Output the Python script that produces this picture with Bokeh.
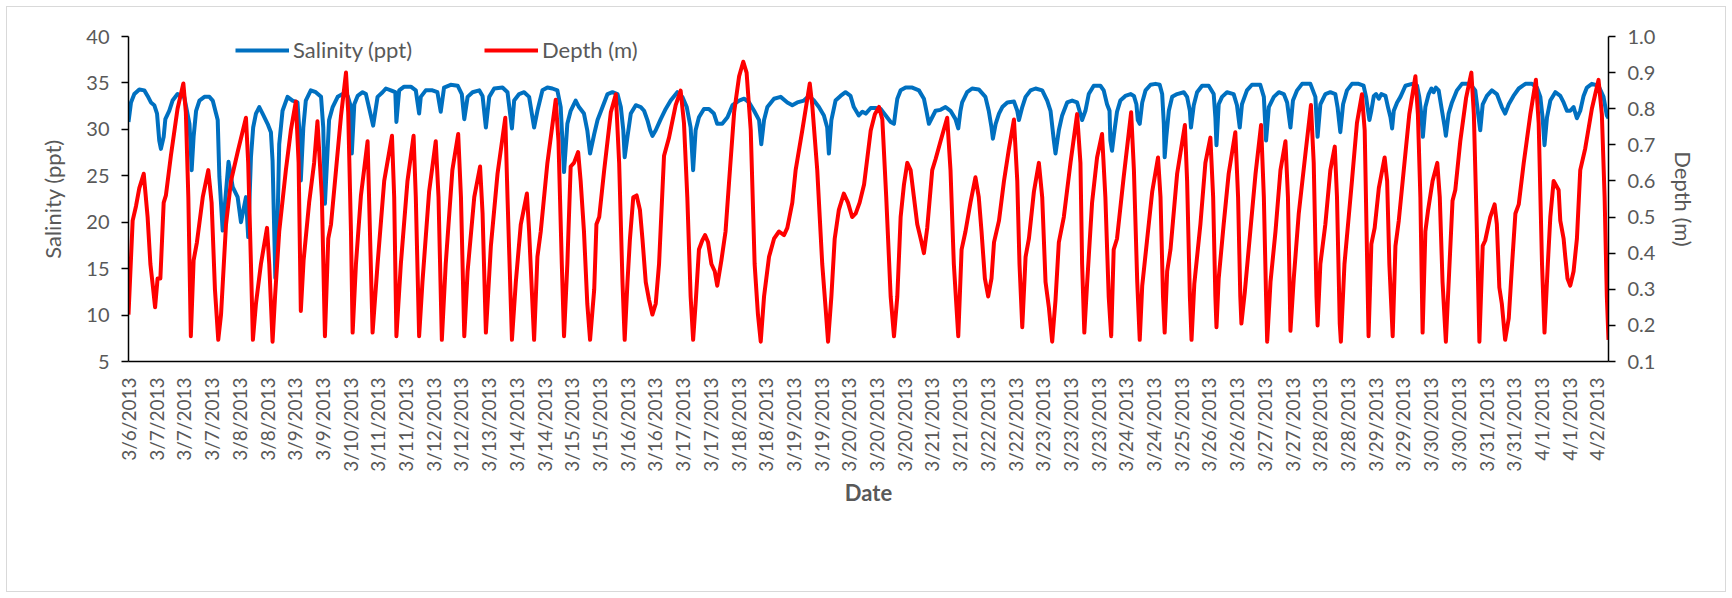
from math import pi
from bokeh.plotting import figure
from bokeh.models import (Range1d, LinearAxis, FixedTicker, NumeralTickFormatter,
                          Legend, LegendItem)
from bokeh.embed import file_html
from bokeh.resources import INLINE

# ---------------- data (x = observation index; one date label every 10 obs) ----------------
label_step = 10
date_labels = ["3/6/2013", "3/7/2013", "3/7/2013", "3/7/2013", "3/8/2013", "3/8/2013",
               "3/9/2013", "3/9/2013", "3/10/2013", "3/11/2013", "3/11/2013", "3/12/2013",
               "3/12/2013", "3/13/2013", "3/14/2013", "3/14/2013", "3/15/2013", "3/15/2013",
               "3/16/2013", "3/16/2013", "3/17/2013", "3/17/2013", "3/18/2013", "3/18/2013",
               "3/19/2013", "3/19/2013", "3/20/2013", "3/20/2013", "3/20/2013", "3/21/2013",
               "3/21/2013", "3/22/2013", "3/22/2013", "3/23/2013", "3/23/2013", "3/23/2013",
               "3/24/2013", "3/24/2013", "3/25/2013", "3/26/2013", "3/26/2013", "3/27/2013",
               "3/27/2013", "3/28/2013", "3/28/2013", "3/29/2013", "3/29/2013", "3/30/2013",
               "3/30/2013", "3/31/2013", "3/31/2013", "4/1/2013", "4/1/2013", "4/2/2013"]
x_end = 534.2

salinity_ticks = [5, 10, 15, 20, 25, 30, 35, 40]
depth_ticks = [0.1, 0.2, 0.3, 0.4, 0.5, 0.6, 0.7, 0.8, 0.9, 1.0]

sal_x = [0.0, 0.9, 2.1, 3.9, 5.7, 6.9, 8.1, 9.3, 10.3, 11.1, 11.7, 12.7, 13.3, 14.7, 15.9, 17.7, 18.9,
         20.1, 21.1, 22.0, 22.5, 22.8, 23.5, 24.4, 25.6, 27.4, 29.2, 30.4, 31.6, 32.2,
         32.8, 34.0, 36.1, 37.6, 39.4, 40.6, 42.4, 43.2, 44.2, 45.0, 46.0, 47.2, 48.4, 50.2, 51.4,
         52.0, 53.0, 53.6, 54.4, 55.6, 57.4, 59.2, 61.0, 61.6, 62.2, 63.1, 64.0, 65.8, 67.6, 69.5,
         70.3, 70.9, 71.8, 72.4, 73.7, 75.5, 77.3, 79.1, 80.3, 80.6, 81.5, 82.7, 84.5,
         85.7, 88.3, 89.9, 91.7, 92.9, 94.7, 96.3, 96.7, 97.7, 99.5, 101.9, 103.7, 104.9, 105.5,
         107.3, 109.7, 111.5, 112.7, 113.9, 116.3, 118.8, 120.3, 121.2, 122.4, 124.2, 126.6, 127.8,
         129.0, 130.2, 132.0, 135.0, 136.8, 138.4, 139.2, 141.0, 142.8, 144.6, 146.4, 147.6, 149.4,
         151.2, 153.0, 154.8, 156.0, 157.2, 158.4, 159.6, 161.4, 162.6, 164.4, 165.6, 166.6, 168.1,
         169.3, 171.1, 172.9, 174.7,
         176.5, 177.7, 178.6, 179.1, 180.1, 181.3, 183.1, 184.9, 186.1, 187.3, 188.3, 189.1, 190.3,
         192.1, 193.9, 195.7, 198.1, 199.9, 201.5, 202.9, 203.8, 204.7, 205.9, 207.7, 209.5, 211.3,
         212.5, 214.3, 216.2, 218.0, 220.4, 222.2, 224.0, 225.8, 227.6, 228.4, 229.4, 230.6, 233.0,
         235.4, 237.8, 239.6, 241.4, 243.8, 245.6, 247.4, 249.2, 251.0, 252.2, 252.8, 253.7, 255.2,
         257.0, 258.8, 260.6, 261.8,
         263.6, 264.9, 266.1, 267.9, 269.7, 271.5, 273.3, 275.1, 276.3, 276.9, 277.5, 278.7, 280.5,
         282.9, 285.3, 287.1, 288.0, 288.9, 290.1, 291.3, 293.1, 294.9, 296.7, 298.5, 299.5, 300.3,
         300.9, 302.7, 304.5, 306.9, 309.3, 310.5, 311.5, 312.0, 313.0, 314.2, 315.4, 317.2, 319.6,
         320.8, 321.4, 322.6, 323.8, 325.6, 327.4, 329.8, 331.6, 332.8, 334.0, 334.6, 335.8, 337.0,
         338.8, 340.6, 342.4, 344.2, 345.4, 346.6, 348.4,
         350.8, 352.0, 353.2, 354.1, 354.4, 355.0, 355.9, 356.8, 358.0, 359.8, 361.7, 362.9, 363.8,
         364.3, 365.0, 365.9, 367.1, 368.9, 370.7, 372.2, 373.1, 373.7, 374.0, 374.6, 375.5, 376.7,
         378.5, 380.9, 382.1, 383.1, 383.5, 384.5, 385.7, 387.5, 389.9, 391.7, 392.3, 392.7, 393.5,
         394.7, 396.5, 398.9, 400.1, 401.1, 401.9, 403.7, 405.5, 408.5, 409.8, 410.6, 411.6, 413.4,
         415.2, 417.0, 418.2, 419.4, 420.3, 421.8, 423.6, 426.6, 428.4, 429.2, 430.2, 432.0, 433.8,
         435.6, 436.4, 437.4, 438.4, 439.8,
         441.6, 444.0, 445.8, 446.7, 447.4, 447.9, 448.6, 449.5, 450.3, 451.3, 452.2, 453.7, 454.6,
         455.5, 456.1, 456.7, 457.9, 459.1, 460.9, 463.3, 465.1, 465.9, 466.6, 467.2, 468.1, 469.3,
         470.3, 471.1, 471.9, 472.9, 474.1, 475.1, 475.5, 476.5, 477.7, 479.5, 481.3, 484.3, 486.1,
         487.3, 487.9, 488.8, 490.3, 492.1, 493.9, 495.7, 496.9, 498.2, 499.9, 501.8, 504.2, 506.6,
         508.4, 509.6, 510.4, 511.1, 512.0, 513.2, 515.0, 516.8, 518.0, 519.2, 520.4, 521.6, 522.8,
         524.0, 525.2, 526.4, 528.2, 530.6, 532.4, 533.6, 534.2]
sal_v = [30.8, 32.9, 33.8, 34.3, 34.2, 33.6, 32.9, 32.6, 31.7, 28.8, 27.9, 29.2, 31.1, 32.0, 33.1, 33.8, 33.6,
         33.5, 32.0, 30.6, 27.7, 25.6, 29.2, 32.0, 33.1, 33.5, 33.5, 33.1, 31.7, 31.0,
         24.9, 19.1, 26.5, 23.8, 22.7, 20.0, 22.7, 18.4, 27.0, 30.2, 31.7, 32.4, 31.7, 30.6, 29.7,
         26.6, 14.0, 17.3, 28.4, 32.0, 33.5, 33.1, 32.9, 30.2, 24.5, 30.2, 33.1, 34.2, 34.0, 33.5,
         30.2, 22.0, 27.4, 31.0, 32.4, 33.5, 33.8, 33.6, 32.4, 27.4, 32.7, 33.6, 34.0,
         33.8, 30.4, 33.5, 34.0, 34.4, 34.2, 34.0, 30.8, 34.2, 34.6, 34.6, 34.2, 31.7, 33.5,
         34.2, 34.2, 34.0, 31.9, 34.5, 34.8, 34.7, 33.8, 31.1, 33.5, 34.0, 34.2, 33.6,
         30.2, 33.5, 34.4, 34.5, 34.0, 30.1, 33.1, 33.8, 34.0, 33.5, 30.2, 32.0, 34.2,
         34.5, 34.4, 34.2, 32.4, 25.4, 30.6, 32.0, 33.1, 32.4, 31.7, 29.9, 27.4, 29.5,
         31.0, 32.4, 33.8, 34.0,
         33.8, 32.4, 29.9, 27.0, 29.2, 31.7, 32.6, 32.4, 32.0, 31.0, 29.9, 29.3, 29.9,
         31.1, 32.2, 33.1, 34.0, 33.5, 32.4, 30.2, 25.6, 29.9, 31.3, 32.2, 32.2, 31.7,
         30.6, 30.6, 31.3, 32.6, 33.1, 33.3, 32.9, 32.0, 31.0, 28.4, 31.0, 32.4, 33.3,
         33.5, 32.9, 32.6, 32.9, 33.1, 33.6, 33.1, 32.4, 31.5, 30.2, 27.4, 31.0, 33.1,
         33.6, 34.0, 33.6, 32.4,
         31.5, 31.9, 31.7, 32.3, 32.3, 32.2, 31.5, 30.8, 30.6, 32.0, 33.3, 34.2, 34.5,
         34.5, 34.2, 33.3, 32.0, 30.6, 31.3, 32.0, 32.1, 32.4, 32.0, 31.1, 30.1, 32.0,
         32.9, 34.0, 34.4, 34.3, 33.5, 32.0, 30.2, 29.0, 30.6, 31.7, 32.4, 32.9, 33.0,
         32.0, 31.0, 32.4, 33.5, 34.2, 34.4, 34.2, 33.1, 32.0, 28.8, 27.4, 29.9, 31.5,
         32.9, 33.1, 32.9, 31.0, 32.0, 33.8, 34.7,
         34.7, 34.2, 32.7, 32.0, 28.8, 27.7, 29.9, 31.9, 33.1, 33.6, 33.8, 33.6, 32.7,
         31.0, 30.6, 32.9, 34.2, 34.8, 34.9, 34.8, 33.8, 30.6, 27.0, 29.2, 32.0, 33.5,
         33.8, 34.0, 33.5, 32.0, 30.2, 32.6, 34.0, 34.7, 34.7, 33.8, 31.3, 28.3, 32.7,
         33.5, 34.0, 33.8, 32.6, 30.2, 32.7, 34.2, 34.8, 34.8, 33.5, 28.8, 32.4, 33.5,
         34.0, 33.8, 32.9, 30.2, 33.1, 34.2, 34.9, 34.9, 33.5, 29.2, 32.7, 33.8, 34.0,
         33.8, 32.4, 29.7, 32.7, 34.2,
         34.9, 34.9, 34.7, 33.5, 32.0, 31.0, 32.0, 33.6, 33.8, 33.3, 33.8, 33.6, 32.4,
         31.3, 30.1, 32.0, 32.9, 33.5, 34.7, 34.9, 34.7, 33.5, 31.7, 29.2, 32.4, 33.8,
         34.4, 34.0, 34.5, 34.2, 32.0, 30.2, 29.3, 31.7, 32.9, 34.2, 34.9, 34.9, 34.2,
         31.3, 29.9, 32.7, 33.6, 34.2, 33.8, 32.4, 31.7, 32.7, 33.6, 34.4, 34.9, 34.9,
         34.5, 33.5, 31.3, 28.3, 31.3, 33.1, 34.0, 33.6, 32.9, 32.0, 32.0, 32.4, 31.2,
         32.0, 33.6, 34.5, 34.9, 34.7, 33.5, 31.5, 31.2]

dep_x = [0.0, 1.5, 2.7, 3.9, 5.5, 6.9, 7.9, 8.7, 9.6, 10.5, 11.5, 12.7, 13.5, 15.3, 17.7, 19.8, 20.7,
         21.6, 22.5, 23.5, 24.7, 26.8, 28.8, 30.0, 31.2, 32.4, 33.4, 35.2, 37.0, 39.4, 42.4, 43.2,
         44.2, 44.9, 46.0, 47.8, 50.0, 50.8, 52.0, 52.9, 54.4, 56.8, 58.6, 60.4, 61.4, 62.2, 63.2,
         65.2, 67.0, 68.2, 69.8, 70.9, 72.1, 73.1, 74.9, 76.7, 78.5, 79.3, 80.3, 80.9, 82.1, 83.9,
         86.3, 88.1, 89.9, 92.3, 95.1, 95.9, 96.7, 98.3, 100.7, 102.9, 103.7, 104.9, 106.1, 108.5,
         110.9, 111.9, 113.1, 114.5, 116.9, 119.0, 120.0, 121.2, 122.4, 124.8, 126.9, 127.8, 129.0,
         130.8, 133.2, 136.0, 136.8, 138.4, 139.8, 141.6, 143.8, 144.6, 146.4, 147.6, 148.8, 151.2,
         154.2, 155.2, 156.4, 157.2, 158.4, 159.6, 160.8, 162.3, 163.2, 164.4, 165.6, 166.6, 168.1,
         168.9, 169.9, 171.7, 174.1,
         175.9, 177.1, 178.3, 179.1, 180.1, 181.0, 182.2, 183.4, 184.6, 185.5, 186.7, 187.9, 189.1,
         190.3, 191.5, 193.3, 195.1, 197.5, 199.3, 200.5, 201.7, 202.9, 203.8, 204.7, 205.9, 207.1,
         208.1, 209.2, 210.4, 211.6, 212.5, 214.0, 215.5, 216.8, 218.6, 220.4, 221.9, 223.1, 224.6,
         226.0, 227.2, 228.2, 229.4, 231.2, 233.0, 234.8, 236.6, 237.8, 239.6, 240.8, 243.2, 245.9,
         246.8, 248.6, 250.4, 251.6, 252.5, 253.7, 254.9, 256.4, 258.2, 259.7, 261.2,
         262.5, 263.9, 265.5, 266.7, 267.9, 269.4, 270.9, 272.1, 273.5, 275.1, 276.3, 277.5, 278.7,
         279.9, 281.1, 282.3, 283.5, 284.7, 286.1, 287.1, 288.3, 290.1, 291.3, 293.1, 295.5, 296.7,
         297.9, 299.5, 300.7, 302.1, 303.9, 305.7, 306.9, 307.9, 309.1, 310.3, 311.5, 312.4, 314.2,
         316.0, 317.8, 319.6, 320.8, 321.6, 322.6, 323.8, 325.0, 326.8, 328.6, 329.8, 331.0, 332.2,
         333.4, 334.6, 335.8, 337.6, 340.0, 342.4, 343.6, 344.2, 345.0, 346.0, 347.8, 349.6,
         351.4, 352.6, 353.8, 354.7, 355.6, 356.8, 359.2, 361.9, 362.9, 364.1, 365.0, 365.9, 367.7,
         369.5, 371.6, 372.5, 373.4, 374.0, 374.9, 376.1, 378.5, 381.3, 382.1, 383.1, 383.7, 384.7,
         386.9, 388.7, 390.5, 391.5, 392.3, 392.7, 393.5, 395.3, 397.1, 399.5, 400.5, 401.3, 401.7,
         402.9, 404.9, 406.8, 408.8, 409.8, 410.6, 411.0, 412.2, 414.0, 415.8, 417.6, 418.5, 419.4,
         420.6, 422.4, 424.8, 426.8, 427.8, 428.8, 429.2, 430.2, 432.0, 433.8, 435.4, 436.2, 437.2,
         437.6, 438.9,
         441.6, 443.4, 445.2, 446.2, 447.1, 447.6, 448.6, 449.8, 451.3, 453.4, 454.3, 455.1, 456.3,
         457.3, 458.5, 460.3, 462.3, 464.5, 465.4, 466.3, 467.1, 468.1, 469.1, 470.7, 472.4, 473.3,
         474.3, 475.5, 476.7, 477.9, 478.9, 480.7, 482.8, 484.7, 485.6, 486.7, 487.6, 488.8, 489.7,
         491.5, 493.1, 493.9, 494.8, 495.7, 496.9, 498.2, 499.4, 500.6, 501.8, 503.6, 506.0, 508.0,
         509.0, 510.2, 511.1, 512.3, 513.2, 514.4, 516.2, 516.8, 518.0, 518.6, 519.4, 520.4, 521.6,
         522.8, 524.0, 525.8, 528.2, 530.6, 531.8, 532.8, 533.6, 534.2]
dep_v = [0.23, 0.49, 0.53, 0.58, 0.62, 0.50, 0.37, 0.315, 0.25, 0.33, 0.33, 0.54, 0.56, 0.67, 0.80, 0.87, 0.79,
         0.555, 0.17, 0.38, 0.43, 0.555, 0.63, 0.54, 0.30, 0.16, 0.23, 0.48, 0.60, 0.68, 0.775, 0.65,
         0.37, 0.16, 0.26, 0.37, 0.47, 0.37, 0.155, 0.28, 0.46, 0.63, 0.74, 0.82, 0.65, 0.24, 0.38,
         0.54, 0.65, 0.765, 0.555, 0.17, 0.44, 0.48, 0.63, 0.78, 0.90, 0.79, 0.46, 0.18, 0.37, 0.56,
         0.71, 0.18, 0.37, 0.60, 0.725, 0.555, 0.17, 0.37, 0.60, 0.725, 0.555, 0.17, 0.32, 0.57,
         0.71, 0.555, 0.16, 0.37, 0.63, 0.73, 0.555, 0.17, 0.35, 0.555, 0.64, 0.51, 0.18,
         0.42, 0.62, 0.775, 0.555, 0.16, 0.32, 0.48, 0.565, 0.46, 0.16, 0.39, 0.46, 0.65,
         0.825, 0.71, 0.37, 0.17, 0.37, 0.64, 0.65, 0.68, 0.60, 0.46, 0.26, 0.16, 0.30,
         0.48, 0.50, 0.63, 0.79,
         0.84, 0.65, 0.32, 0.16, 0.32, 0.44, 0.555, 0.56, 0.52, 0.44, 0.32, 0.27, 0.23,
         0.26, 0.37, 0.67, 0.72, 0.81, 0.85, 0.76, 0.555, 0.28, 0.16, 0.26, 0.41, 0.435,
         0.45, 0.43, 0.37, 0.35, 0.31, 0.38, 0.46, 0.60, 0.79, 0.89, 0.93, 0.90, 0.74,
         0.37, 0.23, 0.155, 0.28, 0.39, 0.44, 0.46, 0.45, 0.47, 0.54, 0.63, 0.74, 0.87,
         0.81, 0.63, 0.37, 0.25, 0.155, 0.28, 0.44, 0.52, 0.565, 0.54, 0.50,
         0.51, 0.54, 0.59, 0.665, 0.74, 0.785, 0.805, 0.77, 0.555, 0.28, 0.17, 0.28, 0.50,
         0.59, 0.65, 0.63, 0.555, 0.48, 0.435, 0.40, 0.47, 0.63, 0.66, 0.71, 0.775, 0.63,
         0.37, 0.17, 0.41, 0.46, 0.54, 0.61, 0.555, 0.46, 0.33, 0.28, 0.33, 0.43, 0.49,
         0.60, 0.69, 0.77, 0.60, 0.37, 0.195, 0.39, 0.44, 0.57, 0.65, 0.555, 0.32, 0.25,
         0.155, 0.27, 0.43, 0.50, 0.65, 0.785, 0.65, 0.37, 0.18, 0.315, 0.54, 0.665,
         0.73, 0.555, 0.28, 0.17, 0.41, 0.44, 0.61, 0.79, 0.63, 0.32, 0.16, 0.31, 0.44,
         0.57, 0.665, 0.555, 0.28, 0.18, 0.35, 0.41, 0.62, 0.755, 0.60, 0.28, 0.16, 0.315,
         0.48, 0.65, 0.72, 0.555, 0.28, 0.195, 0.33, 0.48, 0.62, 0.735, 0.555, 0.28, 0.205,
         0.29, 0.46, 0.62, 0.755, 0.555, 0.28, 0.155, 0.32, 0.46, 0.63, 0.71, 0.555, 0.185,
         0.33, 0.51, 0.675, 0.81, 0.65, 0.28, 0.20, 0.37, 0.48, 0.63, 0.695, 0.555, 0.205,
         0.155, 0.37,
         0.60, 0.76, 0.84, 0.74, 0.37, 0.17, 0.425, 0.47, 0.58, 0.665, 0.60, 0.37, 0.17,
         0.42, 0.49, 0.63, 0.785, 0.89, 0.785, 0.555, 0.18, 0.46, 0.52, 0.60, 0.65, 0.555,
         0.32, 0.155, 0.35, 0.545, 0.575, 0.71, 0.83, 0.90, 0.785, 0.46, 0.155, 0.42, 0.435,
         0.50, 0.535, 0.48, 0.305, 0.26, 0.16, 0.22, 0.37, 0.51, 0.535, 0.65, 0.785, 0.88,
         0.76, 0.37, 0.18, 0.37, 0.50, 0.60, 0.575, 0.49, 0.44, 0.39, 0.33, 0.31, 0.35,
         0.44, 0.63, 0.69, 0.80, 0.88, 0.785, 0.555, 0.28, 0.16]

# ---------------- styling ----------------
FONT = "Lato"
GREY = "#595959"
BLUE = "#0070C0"
RED = "#FF0000"

p = figure(width=1732, height=598, output_backend="svg", toolbar_location=None,
           x_range=Range1d(0, x_end), y_range=Range1d(5, 40),
           min_border_left=128, min_border_right=124, min_border_top=36, min_border_bottom=237)
# light chart-area border drawn by the page behind a transparent canvas border
p.styles = {"background-color": "white",
            "box-shadow": "inset 0 0 0 6px white, inset 0 0 0 7px #D9D9D9"}
p.background_fill_color = "white"
p.border_fill_alpha = 0
p.outline_line_color = None
p.xgrid.visible = False
p.ygrid.visible = False
p.extra_y_ranges = {"depth": Range1d(0.1, 1.0)}

r_sal = p.line(sal_x, sal_v, line_color=BLUE, line_width=4, line_join="round")
r_dep = p.line(dep_x, dep_v, line_color=RED, line_width=4, line_join="round",
               y_range_name="depth")

def style_axis(ax):
    ax.axis_line_color = "black"
    ax.axis_line_width = 1.5
    ax.major_tick_line_color = "black"
    ax.major_tick_line_width = 1.5
    ax.minor_tick_line_color = None
    ax.major_tick_in = 0
    ax.major_label_text_font = FONT
    ax.major_label_text_color = GREY
    ax.axis_label_text_font = FONT
    ax.axis_label_text_color = GREY
    ax.axis_label_text_font_style = "normal"

# bottom (date) axis
xa = p.xaxis[0]
style_axis(xa)
xa.ticker = FixedTicker(ticks=[i * label_step for i in range(len(date_labels))])
xa.major_label_overrides = {i * label_step: lab for i, lab in enumerate(date_labels)}
xa.major_tick_out = 0
xa.major_tick_line_color = None
xa.major_label_orientation = pi / 2
xa.major_label_standoff = 16
xa.major_label_text_font_size = "19px"
xa.axis_label = "Date"
xa.axis_label_text_font_size = "22px"
xa.axis_label_text_font_style = "bold"
xa.axis_label_standoff = 4

# left (salinity) axis
ya = p.yaxis[0]
style_axis(ya)
ya.ticker = FixedTicker(ticks=salinity_ticks)
ya.major_tick_out = 7
ya.major_label_standoff = 12
ya.major_label_text_font_size = "20px"
ya.axis_label = "Salinity (ppt)"
ya.axis_label_text_font_size = "22px"
ya.axis_label_standoff = 17

# right (depth) axis
ra = LinearAxis(y_range_name="depth", ticker=FixedTicker(ticks=depth_ticks),
                formatter=NumeralTickFormatter(format="0.0"), axis_label="Depth (m)")
style_axis(ra)
ra.major_tick_out = 7
ra.major_label_standoff = 12
ra.major_label_text_font_size = "20px"
ra.axis_label_text_font_size = "22px"
ra.axis_label_standoff = 12
p.add_layout(ra, "right")

legend = Legend(items=[LegendItem(label="Salinity (ppt)", renderers=[r_sal]),
                       LegendItem(label="Depth (m)", renderers=[r_dep])],
                orientation="horizontal", location=(107, 298),
                glyph_width=54, glyph_height=24, label_height=24, label_standoff=4,
                spacing=72, padding=0, margin=0,
                border_line_alpha=0, background_fill_alpha=0,
                label_text_font=FONT, label_text_font_size="22px", label_text_color=GREY)
p.add_layout(legend)

open("out.html", "w").write(file_html(p, INLINE))
